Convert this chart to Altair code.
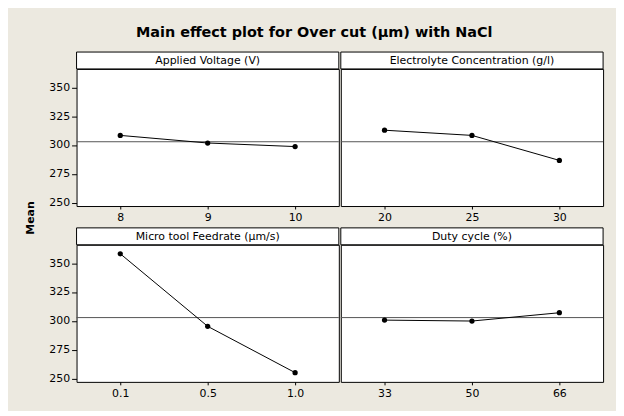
import altair as alt
import pandas as pd

title_text = "Main effect plot for Over cut (µm) with NaCl"
y_title = "Mean"
factors = ["Applied Voltage (V)", "Electrolyte Concentration (g/l)",
           "Micro tool Feedrate (µm/s)", "Duty cycle (%)"]
levels_voltage = ["8", "9", "10"]
means_voltage = [308.3, 301.7, 298.6]
levels_conc = ["20", "25", "30"]
means_conc = [312.8, 308.3, 286.6]
levels_feed = ["0.1", "0.5", "1.0"]
means_feed = [358.2, 295.2, 255.0]
levels_duty = ["33", "50", "66"]
means_duty = [300.6, 299.8, 307.0]
grand_mean = 302.8
y_ticks = [250, 275, 300, 325, 350]

FONT = "DejaVu Sans"
PW = 264
PH = 138
HH = 17
YDOM = [247, 366]


def panel(name, levels, means, show_y):
    df = pd.DataFrame({"level": levels, "mean": means})
    x = alt.X("level:O", sort=levels, title=None,
              axis=alt.Axis(labelAngle=0, tickSize=3, labelPadding=3, domain=False))
    if show_y:
        yaxis = alt.Axis(values=y_ticks, title=None, domain=False, tickSize=5, labelPadding=2)
    else:
        yaxis = None
    y = alt.Y("mean:Q", scale=alt.Scale(domain=YDOM, nice=False, zero=False), axis=yaxis)
    hdf = pd.DataFrame({"t": [name]})
    hrect = alt.Chart(hdf).mark_rect(fill="white", stroke="black", strokeWidth=1).encode(
        x=alt.value(0), x2=alt.value(PW), y=alt.value(-HH), y2=alt.value(0))
    htext = alt.Chart(hdf).mark_text(font=FONT, fontSize=11, color="black").encode(
        text="t:N", x=alt.value(PW / 2), y=alt.value(-HH / 2 + 0.5))
    rule = alt.Chart(pd.DataFrame({"mean": [grand_mean]})).mark_rule(
        color="#555555", strokeWidth=1).encode(y=y)
    line = alt.Chart(df).mark_line(color="black", strokeWidth=1).encode(x=x, y=y)
    pts = alt.Chart(df).mark_circle(color="black", size=28, opacity=1).encode(x=x, y=y)
    return alt.layer(hrect, htext, rule, line, pts).properties(width=PW, height=PH)


pA = panel(factors[0], levels_voltage, means_voltage, True)
pB = panel(factors[1], levels_conc, means_conc, False)
pC = panel(factors[2], levels_feed, means_feed, True)
pD = panel(factors[3], levels_duty, means_duty, False)

top = alt.hconcat(pA, pB, spacing=0)
bottom = alt.hconcat(pC, pD, spacing=0)
grid = alt.vconcat(top, bottom, spacing=3)

mean_label = alt.Chart(pd.DataFrame({"t": [y_title]})).mark_text(
    font=FONT, fontSize=11, fontWeight="bold", color="black", angle=270).encode(
    text="t:N", x=alt.value(6), y=alt.value(150)).properties(
    width=12, height=300, view=alt.ViewBackground(stroke="transparent", fill="transparent"))

chart = alt.hconcat(mean_label, grid, spacing=10).properties(
    title=alt.TitleParams(title_text, font=FONT, fontSize=14.5, fontWeight="bold",
                          anchor="middle", offset=11, color="black"),
    background="#ECE9E0",
    padding={"left": 16, "top": 15, "right": 12, "bottom": 10},
).configure_view(
    stroke="black", strokeWidth=1, fill="white"
).configure_axis(
    labelFont=FONT, labelFontSize=11, labelColor="black", tickColor="black", grid=False
)

chart.save("out.html", embed_options={"renderer": "svg", "actions": False})
